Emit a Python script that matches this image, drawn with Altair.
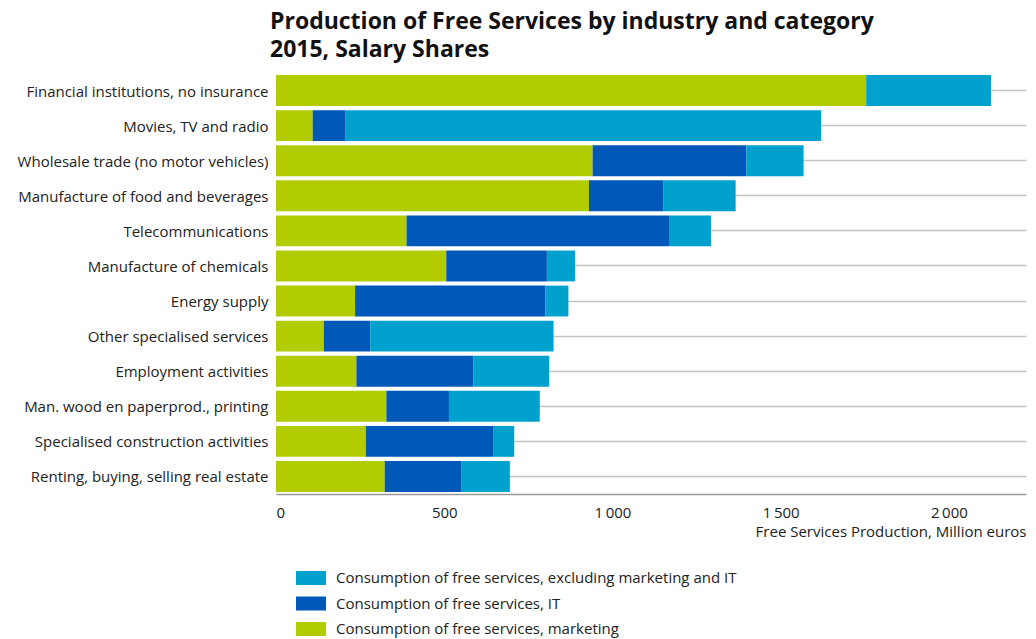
import altair as alt
import pandas as pd

industries = [
    "Financial institutions, no insurance",
    "Movies, TV and radio",
    "Wholesale trade (no motor vehicles)",
    "Manufacture of food and beverages",
    "Telecommunications",
    "Manufacture of chemicals",
    "Energy supply",
    "Other specialised services",
    "Employment activities",
    "Man. wood en paperprod., printing",
    "Specialised construction activities",
    "Renting, buying, selling real estate",
]
marketing = [1754, 109, 941, 930, 388, 506, 235, 142, 239, 328, 267, 323]
it = [0, 98, 457, 222, 780, 299, 566, 138, 348, 186, 380, 227]
excl = [371, 1413, 170, 214, 125, 84, 68, 545, 225, 270, 61, 145]

cat_excl = "Consumption of free services, excluding marketing and IT"
cat_it = "Consumption of free services, IT"
cat_mkt = "Consumption of free services, marketing"
categories = [cat_excl, cat_it, cat_mkt]
colors = ["#00a1cd", "#0058b8", "#b2cc03"]
stack_order = {cat_mkt: 0, cat_it: 1, cat_excl: 2}

rows = []
for i, ind in enumerate(industries):
    for cat, vals in ((cat_mkt, marketing), (cat_it, it), (cat_excl, excl)):
        rows.append({"industry": ind, "category": cat, "value": vals[i], "ord": stack_order[cat]})
df = pd.DataFrame(rows)

FONT = "Open Sans"
FS = 15

chart = alt.Chart(df).mark_bar().encode(
    y=alt.Y("industry:N", sort=industries, title=None,
            scale=alt.Scale(paddingInner=0.12, paddingOuter=0.06),
            axis=alt.Axis(bandPosition=0.5, grid=True, gridColor="#c4c4c4", gridWidth=1.5,
                          ticks=False, domain=False, labelPadding=8, labelFontSize=FS,
                          labelColor="#222222", labelFont=FONT, labelLimit=400,
                          labelBaseline="middle", labelOffset=1)),
    x=alt.X("value:Q", stack="zero",
            scale=alt.Scale(domain=[0, 2229], nice=False),
            title="Free Services Production, Million euros",
            axis=alt.Axis(values=[0, 500, 1000, 1500, 2000], grid=False, ticks=False,
                          domainColor="#999999", domainWidth=1.5,
                          labelExpr="replace(format(datum.value, ','), ',', '\u2009')",
                          labelFontSize=FS, labelColor="#222222", labelFont=FONT,
                          labelPadding=11, titleFont=FONT, titleFontSize=FS,
                          titleFontWeight="normal", titleColor="#222222",
                          titleAnchor="end", titlePadding=4)),
    color=alt.Color("category:N",
                    scale=alt.Scale(domain=categories, range=colors),
                    legend=alt.Legend(title=None, orient="none", legendX=20, legendY=490,
                                      direction="vertical",
                                      symbolType="M-1,-0.467H1V0.467H-1Z",
                                      symbolSize=900, symbolStrokeWidth=0,
                                      symbolOpacity=1,
                                      labelFont=FONT, labelFontSize=FS,
                                      labelColor="#222222", labelLimit=600,
                                      labelOffset=10, rowPadding=2.5, padding=0)),
    order=alt.Order("ord:Q"),
).properties(
    width=750,
    height=421,
    title=alt.TitleParams(
        text=["Production of Free Services by industry and category", "2015, Salary Shares"],
        anchor="start", frame="group", font=FONT, fontSize=23, fontWeight="bold",
        color="#111111", lineHeight=28, dx=-6, offset=11,
    ),
    padding={"left": 276, "top": 73, "right": 10, "bottom": 145},
    autosize=alt.AutoSizeParams(type="none"),
).configure_view(stroke=None)

chart.save("out.html", embed_options={"renderer": "svg", "actions": False})
